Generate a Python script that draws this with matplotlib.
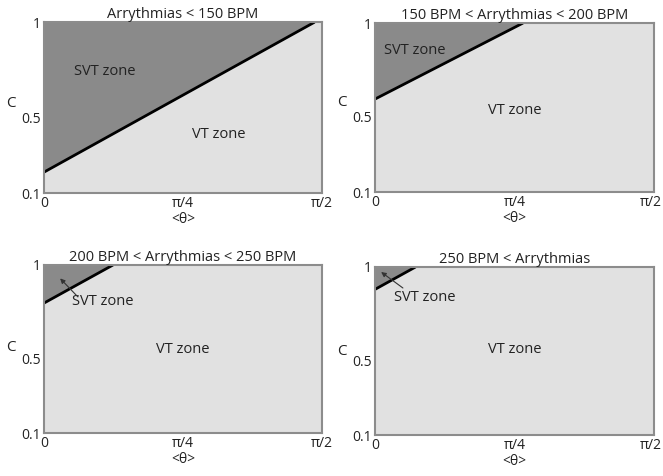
import numpy as np
import matplotlib
matplotlib.use("Agg")
import matplotlib.pyplot as plt
from matplotlib.transforms import ScaledTranslation

titles = ["Arrythmias < 150 BPM", "150 BPM < Arrythmias < 200 BPM",
          "200 BPM < Arrythmias < 250 BPM", "250 BPM < Arrythmias"]
# boundary line: C value at theta=0 and theta where line reaches C=1
c_at_zero = [0.21, 0.595, 0.796, 0.88]
theta_at_one = [1.53, 0.833, 0.39, 0.228]
xticks = [0, np.pi / 4, np.pi / 2]
xticklabels = ["0", "π/4", "π/2"]
yticks = [0.1, 0.5, 1]
yticklabels = ["0.1", "0.5", "1"]

plt.rcParams['font.family'] = ['Open Sans', 'DejaVu Sans']

fig = plt.figure(figsize=(6.63, 4.76), dpi=100)
positions = [
    (0.0664, 0.5945, 0.419, 0.359),
    (0.5656, 0.5966, 0.421, 0.355),
    (0.0664, 0.0903, 0.419, 0.353),
    (0.5656, 0.0861, 0.421, 0.353),
]
dark = "#8a8a8a"
light = "#e1e1e1"
frame = "#8c8c8c"
txt = "#222222"

# label positions (axes fraction)
svt_pos = [(0.22, 0.71), (0.143, 0.84), (0.212, 0.78), (0.18, 0.82)]
vt_pos = [(0.63, 0.34), (0.50, 0.485), (0.50, 0.50), (0.50, 0.51)]
c_label_y = [0.526, 0.527, 0.506, 0.50]
arrows = {2: ((0.058, 0.92), (0.122, 0.81)), 3: ((0.022, 0.97), (0.10, 0.875))}

for i, pos in enumerate(positions):
    ax = fig.add_axes(pos)
    ax.set_facecolor(light)
    c0 = c_at_zero[i]
    t1 = theta_at_one[i]
    xs = np.array([0, t1])
    ys = np.array([c0, 1.0])
    ax.fill_between(xs, ys, 1.0, color=dark, lw=0, zorder=1)
    ax.plot(xs, ys, color="black", lw=2, zorder=2, solid_capstyle='butt')
    ax.set_xlim(0, np.pi / 2)
    ax.set_ylim(0.1, 1)
    ax.set_xticks(xticks)
    ax.set_xticklabels(xticklabels)
    ax.set_yticks(yticks)
    ax.set_yticklabels(yticklabels)
    ax.tick_params(length=0, labelsize=10, pad=2, colors=txt)
    if i % 2 == 1:
        lab = ax.get_xticklabels()[-1]
        lab.set_transform(lab.get_transform() +
                          ScaledTranslation(-3 / 100, 0, fig.dpi_scale_trans))
    for sp in ax.spines.values():
        sp.set_color(frame)
        sp.set_linewidth(1.5)
    ax.set_title(titles[i], fontsize=10.5, pad=1.5 if i < 2 else 0.5, color=txt)
    ax.set_xlabel("<θ>", fontsize=10, labelpad=1, color=txt)
    ax.set_ylabel("C", fontsize=11, rotation=0, color=txt, va="center")
    ax.yaxis.set_label_coords(-0.118, c_label_y[i])
    ax.text(*svt_pos[i], "SVT zone", transform=ax.transAxes, ha="center",
            va="center", fontsize=10.5, color=txt, zorder=3)
    ax.text(*vt_pos[i], "VT zone", transform=ax.transAxes, ha="center",
            va="center", fontsize=10.5, color=txt, zorder=3)
    if i in arrows:
        head, tail = arrows[i]
        ax.annotate("", xy=head, xytext=tail,
                    xycoords="axes fraction", textcoords="axes fraction",
                    arrowprops=dict(arrowstyle="-|>", color="#333333",
                                    lw=0.8, mutation_scale=7,
                                    shrinkA=0, shrinkB=0), zorder=3)

fig.savefig("out.png", dpi=100)
